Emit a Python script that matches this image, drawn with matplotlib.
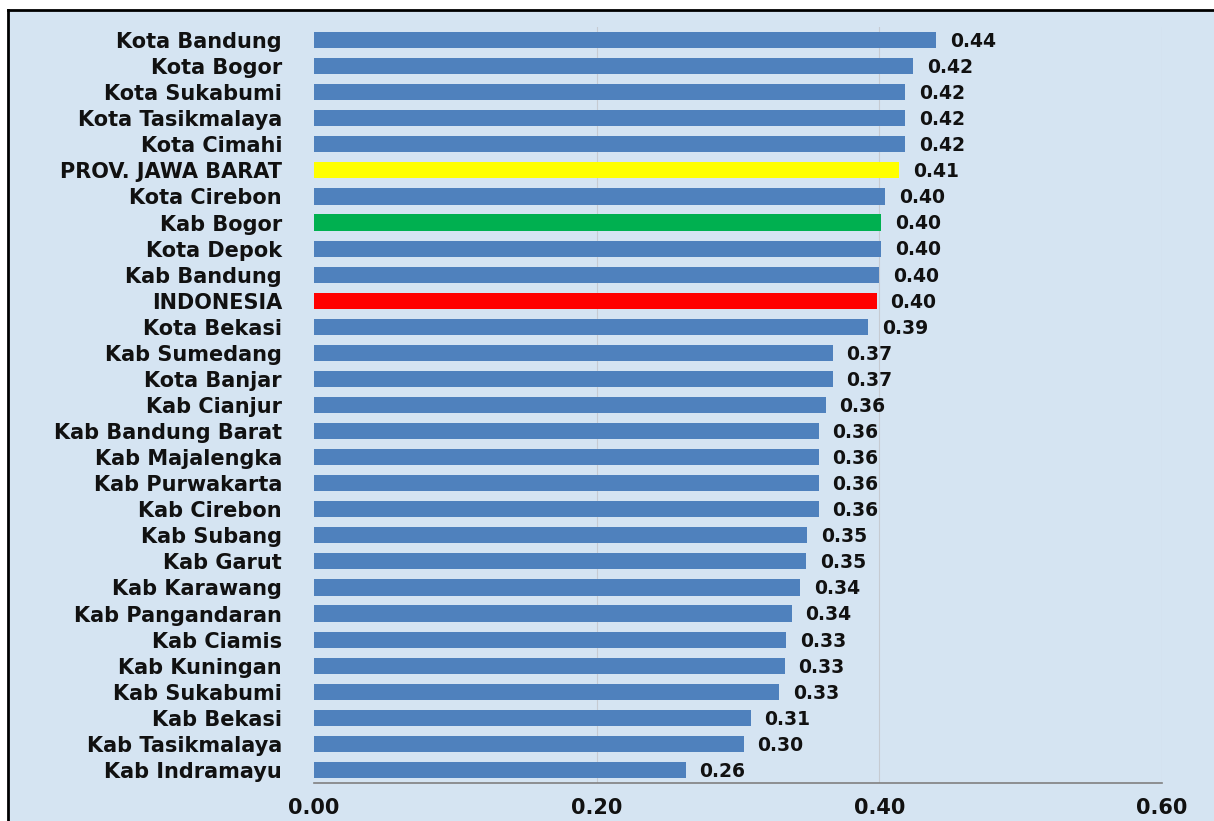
import matplotlib
matplotlib.use("Agg")
import matplotlib.pyplot as plt

categories = [
    "Kota Bandung", "Kota Bogor", "Kota Sukabumi", "Kota Tasikmalaya", "Kota Cimahi",
    "PROV. JAWA BARAT", "Kota Cirebon", "Kab Bogor", "Kota Depok", "Kab Bandung",
    "INDONESIA", "Kota Bekasi", "Kab Sumedang", "Kota Banjar", "Kab Cianjur",
    "Kab Bandung Barat", "Kab Majalengka", "Kab Purwakarta", "Kab Cirebon", "Kab Subang",
    "Kab Garut", "Kab Karawang", "Kab Pangandaran", "Kab Ciamis", "Kab Kuningan",
    "Kab Sukabumi", "Kab Bekasi", "Kab Tasikmalaya", "Kab Indramayu",
]
values = [
    0.440, 0.424, 0.418, 0.418, 0.418,
    0.414, 0.404, 0.401, 0.401, 0.400,
    0.398, 0.392, 0.367, 0.367, 0.362,
    0.357, 0.357, 0.357, 0.357, 0.349,
    0.348, 0.344, 0.338, 0.334, 0.333,
    0.329, 0.309, 0.304, 0.263,
]
highlight = {"PROV. JAWA BARAT": "#ffff00", "Kab Bogor": "#00b050", "INDONESIA": "#ff0000"}
base_color = "#4f81bd"
xticks = [0.0, 0.2, 0.4, 0.6]

bg = "#d5e4f2"
fig = plt.figure(figsize=(12.14, 8.21), dpi=100, facecolor="white")
bgax = fig.add_axes([8/1214, 0, 1 - 8/1214, 1 - 10/821])
bgax.set_facecolor(bg)
bgax.set_xticks([]); bgax.set_yticks([])
for s in ["right", "bottom"]:
    bgax.spines[s].set_visible(False)
for s in ["left", "top"]:
    bgax.spines[s].set_color("black")
    bgax.spines[s].set_linewidth(2)

ax = fig.add_axes([314/1214, 1 - 783/821, (1162-314)/1214, (783-27)/821])
ax.set_facecolor("none")
ypos = list(range(len(categories)))
colors = [highlight.get(c, base_color) for c in categories]
ax.barh(ypos, values, height=0.62, color=colors, zorder=3)
ax.set_ylim(len(categories) - 0.5, -0.5)
ax.set_xlim(0, 0.6)
ax.set_yticks(ypos)
ax.set_yticklabels(categories, fontsize=15, fontweight="bold", color="#111111")
ax.set_xticks(xticks)
ax.set_xticklabels([f"{t:.2f}" for t in xticks], fontsize=15, fontweight="bold", color="#111111")
ax.tick_params(axis="y", length=0, pad=23)
ax.tick_params(axis="x", length=0, pad=11)
for t in xticks[1:]:
    ax.axvline(t, color="#c6cbd2", linewidth=0.8, zorder=1)
for s in ["top", "right", "left"]:
    ax.spines[s].set_visible(False)
ax.spines["bottom"].set_color("#808080")
ax.spines["bottom"].set_linewidth(1.2)

for y, v in zip(ypos, values):
    ax.annotate(f"{v:.2f}", xy=(v, y), xytext=(10, -1), textcoords="offset points",
                va="center", ha="left", fontsize=13.5, fontweight="bold", color="#111111")

fig.savefig("out.png", dpi=100, facecolor="white")
